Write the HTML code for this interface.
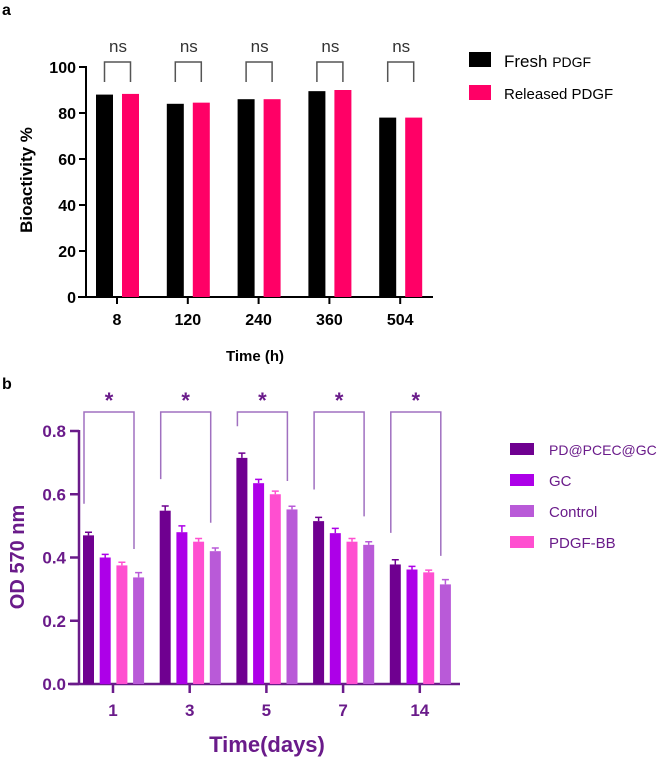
<!DOCTYPE html>
<html><head><meta charset="utf-8"><style>
body{margin:0;background:#fff;}
svg{display:block;font-family:"Liberation Sans",Arial,sans-serif;}
</style></head><body>
<svg id="s" width="666" height="757" viewBox="0 0 666 757">
<text x="2" y="15" font-size="16" font-weight="bold">a</text>
<text x="2" y="389" font-size="16" font-weight="bold">b</text>
<g id="ga"></g>
<g id="gb"></g>
<g>
<rect x="469" y="52" width="22" height="15" fill="#000"/>
<text x="504" y="67" font-size="17">Fresh <tspan font-size="14">PDGF</tspan></text>
<rect x="469" y="85" width="22" height="15" fill="#ff0066"/>
<text x="504" y="99" font-size="15">Released PDGF</text>
</g>
<g font-size="15" fill="#6a1b8a">
<rect x="510" y="443" width="24" height="12" fill="#6f0090"/>
<text x="549" y="455" font-size="14">PD@PCEC@GC</text>
<rect x="510" y="474" width="24" height="12" fill="#ad00e8"/>
<text x="549" y="486">GC</text>
<rect x="510" y="505" width="24" height="12" fill="#b95ad8"/>
<text x="549" y="517">Control</text>
<rect x="510" y="536" width="24" height="12" fill="#ff4fd0"/>
<text x="549" y="548">PDGF-BB</text>
</g>
</svg>
<script>
const catsA=["8","120","240","360","504"];
const freshA=[88,84,86,89.5,78];
const releasedA=[88.3,84.5,86,90,78];
const ticksA=[0,20,40,60,80,100];
const catsB=["1","3","5","7","14"];
const pdB=[0.47,0.548,0.715,0.515,0.378];
const gcB=[0.40,0.48,0.635,0.477,0.362];
const pdgfB=[0.375,0.45,0.60,0.45,0.353];
const ctrlB=[0.337,0.42,0.552,0.44,0.315];
const errB=[[0.01,0.015,0.015,0.012,0.015],[0.01,0.02,0.012,0.015,0.01],[0.01,0.01,0.01,0.01,0.007],[0.015,0.01,0.01,0.01,0.015]];
const ticksB=[0,0.2,0.4,0.6,0.8];
const NS="http://www.w3.org/2000/svg";
function mk(p,t,a,txt){const e=document.createElementNS(NS,t);for(const k in a)e.setAttribute(k,a[k]);if(txt!=null)e.textContent=txt;p.appendChild(e);return e;}
// chart a
const ga=document.getElementById('ga');
const yA=v=>297-(v/100)*230;
const xA=i=>117+i*70.8;
mk(ga,'line',{x1:86,y1:66,x2:86,y2:297,stroke:'#000','stroke-width':2});
mk(ga,'line',{x1:78,y1:297,x2:433,y2:297,stroke:'#000','stroke-width':2});
ticksA.forEach(t=>{
 mk(ga,'line',{x1:79,y1:yA(t),x2:86,y2:yA(t),stroke:'#000','stroke-width':2});
 const l=mk(ga,'text',{x:76,y:yA(t)+6,'text-anchor':'end','font-size':16,'font-weight':'bold'},t);
 
 
});
catsA.forEach((c,i)=>{
 const cx=xA(i);
 mk(ga,'line',{x1:cx,y1:297,x2:cx,y2:304,stroke:'#000','stroke-width':2});
 const l=mk(ga,'text',{x:cx,y:325,'text-anchor':'middle','font-size':16,'font-weight':'bold'},c);
 
 
 const b1=mk(ga,'rect',{x:cx-21,y:yA(freshA[i]),width:17,height:297-yA(freshA[i]),fill:'#000'});
 
 
 const b2=mk(ga,'rect',{x:cx+5,y:yA(releasedA[i]),width:17,height:297-yA(releasedA[i]),fill:'#ff0066'});
 
 
 const l1=cx-12.5,l2=cx+13.5,top=62;
 const bot1=yA(freshA[i])-8,bot2=yA(releasedA[i])-8;
 const br=mk(ga,'path',{d:`M${l1},${Math.min(bot1,82)}V${top}H${l2}V${Math.min(bot2,82)}`,fill:'none',stroke:'#555','stroke-width':1.5});
 
 
 const ns=mk(ga,'text',{x:cx+1,y:52,'text-anchor':'middle','font-size':17,fill:'#333'},'ns');
 
 
});
const yta=mk(ga,'text',{transform:'translate(32,180) rotate(-90)','text-anchor':'middle','font-size':17,'font-weight':'bold'},'Bioactivity %');


const xta=mk(ga,'text',{x:255,y:361,'text-anchor':'middle','font-size':15,'font-weight':'bold'},'Time (h)');


// chart b
const gb=document.getElementById('gb');
const P='#6a1b8a';
const yB=v=>684-(v/0.8)*253;
const xB=i=>113+i*76.7;
mk(gb,'line',{x1:79,y1:430,x2:79,y2:684,stroke:P,'stroke-width':2.5});
mk(gb,'line',{x1:68,y1:684,x2:460,y2:684,stroke:P,'stroke-width':2.5});
ticksB.forEach(t=>{
 mk(gb,'line',{x1:70,y1:yB(t),x2:79,y2:yB(t),stroke:P,'stroke-width':2.5});
 const l=mk(gb,'text',{x:66,y:yB(t)+6,'text-anchor':'end','font-size':17,'font-weight':'bold',fill:P},t.toFixed(1));
 
 
});
const series=[pdB,gcB,pdgfB,ctrlB];
const cols=['#6f0090','#ad00e8','#ff4fd0','#b95ad8'];
const names=['bar-pd','bar-gc','bar-pdgfbb','bar-control'];
catsB.forEach((c,i)=>{
 const cx=xB(i);
 mk(gb,'line',{x1:cx,y1:684,x2:cx,y2:693,stroke:P,'stroke-width':2.5});
 const l=mk(gb,'text',{x:cx,y:716,'text-anchor':'middle','font-size':17,'font-weight':'bold',fill:P},c);
 
 
 series.forEach((s,k)=>{
  const bx=cx-30+k*16.7;
  const e=errB[k][i];
  mk(gb,'path',{d:`M${bx+5.5},${yB(s[i])}V${yB(s[i]+e)}M${bx+2},${yB(s[i]+e)}H${bx+9}`,stroke:cols[k],'stroke-width':1.5,fill:'none'});
  const b=mk(gb,'rect',{x:bx,y:yB(s[i]),width:11,height:684-yB(s[i]),fill:cols[k]});
  
  
 });
 const l1=cx-29,l2=cx+21;
 const br=mk(gb,'path',{d:`M${l1},${yB(pdB[i]+0.1)}V412H${l2}V${yB(ctrlB[i]+0.09)}`,fill:'none',stroke:'#a070c0','stroke-width':1.5});
 
 
 const st=mk(gb,'text',{x:cx-4,y:408,'text-anchor':'middle','font-size':22,'font-weight':'bold',fill:P},'*');
 
 
});
const ytb=mk(gb,'text',{transform:'translate(24,557) rotate(-90)','text-anchor':'middle','font-size':20,'font-weight':'bold',fill:P},'OD 570 nm');


const xtb=mk(gb,'text',{x:267,y:752,'text-anchor':'middle','font-size':22,'font-weight':'bold',fill:P},'Time(days)');


</script>
</body></html>
